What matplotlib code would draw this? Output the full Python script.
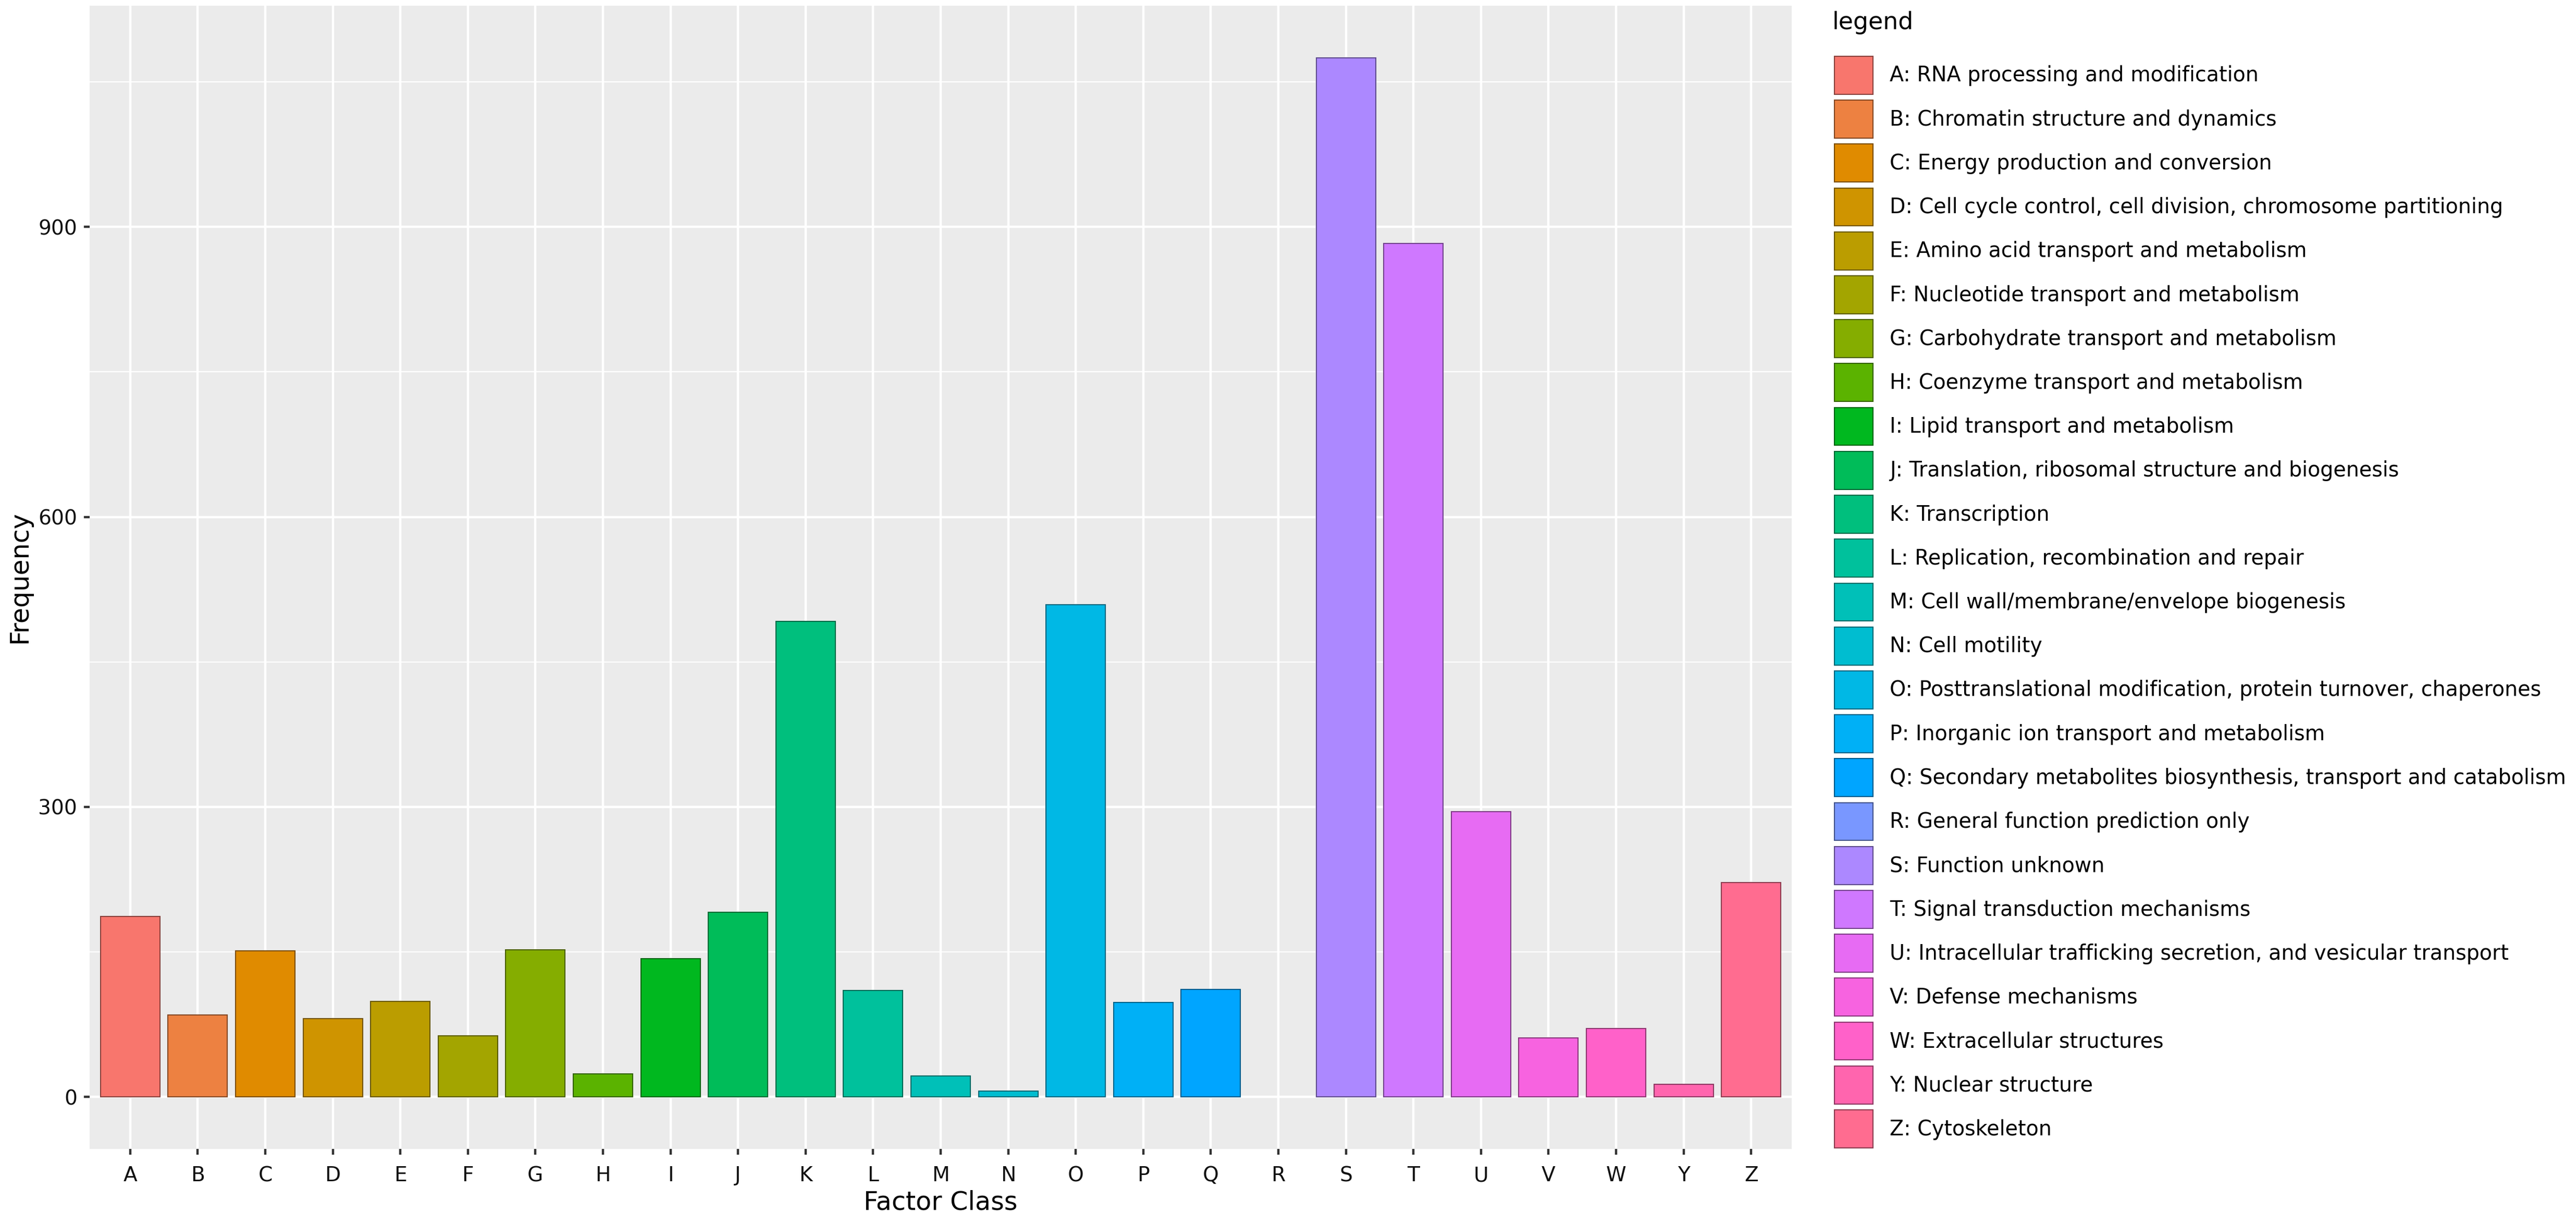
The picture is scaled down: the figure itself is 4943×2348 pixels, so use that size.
import numpy as np
import matplotlib
matplotlib.use('Agg')
import matplotlib.pyplot as plt
from matplotlib.patches import Patch

plt.rcParams['font.family'] = ['DejaVu Sans']

classes = ['A', 'B', 'C', 'D', 'E', 'F', 'G', 'H', 'I', 'J', 'K', 'L', 'M',
           'N', 'O', 'P', 'Q', 'R', 'S', 'T', 'U', 'V', 'W', 'Y', 'Z']
freq = [187, 85, 151, 81, 99, 63, 152, 24, 143, 191, 492, 110, 22,
        6, 509, 98, 111, 0, 1075, 883, 295, 61, 71, 13, 222]
descr = [
    'RNA processing and modification',
    'Chromatin structure and dynamics',
    'Energy production and conversion',
    'Cell cycle control, cell division, chromosome partitioning',
    'Amino acid transport and metabolism',
    'Nucleotide transport and metabolism',
    'Carbohydrate transport and metabolism',
    'Coenzyme transport and metabolism',
    'Lipid transport and metabolism',
    'Translation, ribosomal structure and biogenesis',
    'Transcription',
    'Replication, recombination and repair',
    'Cell wall/membrane/envelope biogenesis',
    'Cell motility',
    'Posttranslational modification, protein turnover, chaperones',
    'Inorganic ion transport and metabolism',
    'Secondary metabolites biosynthesis, transport and catabolism',
    'General function prediction only',
    'Function unknown',
    'Signal transduction mechanisms',
    'Intracellular trafficking secretion, and vesicular transport',
    'Defense mechanisms',
    'Extracellular structures',
    'Nuclear structure',
    'Cytoskeleton',
]
yticks = [0, 300, 600, 900]


def hue_pal(n, c=100.0, l=65.0):
    # same as ggplot's default discrete palette (hcl -> sRGB)
    h = np.deg2rad(np.linspace(15, 375, n + 1)[:n])
    u = c * np.cos(h)
    v = c * np.sin(h)
    Xn, Yn, Zn = 95.047, 100.0, 108.883
    un = 4 * Xn / (Xn + 15 * Yn + 3 * Zn)
    vn = 9 * Yn / (Xn + 15 * Yn + 3 * Zn)
    Y = np.full(n, Yn * ((l + 16) / 116) ** 3)
    up = u / (13 * l) + un
    vp = v / (13 * l) + vn
    X = Y * 9 * up / (4 * vp)
    Z = Y * (12 - 3 * up - 20 * vp) / (4 * vp)
    xyz = np.vstack([X, Y, Z]) / 100
    m = np.array([[3.240479, -1.537150, -0.498535],
                  [-0.969256, 1.875992, 0.041556],
                  [0.055648, -0.204043, 1.057311]])
    rgb = m @ xyz
    rgb = np.where(rgb <= 0.0031308, 12.92 * rgb,
                   1.055 * np.clip(rgb, 0, None) ** (1 / 2.4) - 0.055)
    return np.clip(rgb.T, 0, 1)


cols = hue_pal(len(classes))
edges = cols * 0.55

W, H, DPI = 4943, 2348, 300
fig = plt.figure(figsize=(W / DPI, H / DPI), dpi=DPI)
ax = fig.add_axes([172 / W, 1 - 2204 / H, (3438 - 172) / W, (2204 - 11) / H])
ax.set_facecolor('#EBEBEB')

x = np.arange(len(classes))
lw = [0.5 if f > 0 else 0 for f in freq]
ax.bar(x, freq, width=0.88, color=cols, edgecolor=edges, linewidth=lw, zorder=3)

top = max(freq)
ax.set_ylim(-0.05 * top, 1.05 * top)
ax.set_xlim(-0.6, len(classes) - 0.4)
ax.set_xticks(x)
ax.set_xticklabels(classes)
ax.set_yticks(yticks)
ax.set_yticks([150, 450, 750, 1050], minor=True)

ax.grid(which='major', color='white', linewidth=1.07, zorder=0)
ax.grid(which='minor', axis='y', color='white', linewidth=0.53, zorder=0)
ax.set_axisbelow(True)
for s in ax.spines.values():
    s.set_visible(False)
ax.tick_params(axis='both', which='major', length=2.75, width=1.07, color='#333333',
               labelsize=9.4, labelcolor='#111111')
ax.tick_params(axis='y', pad=3)
ax.tick_params(axis='x', pad=5)
ax.tick_params(axis='y', which='minor', length=0)

ax.set_xlabel('Factor Class', fontsize=11.8, color='black')
ax.set_ylabel('Frequency', fontsize=11.8, color='black')
ax.xaxis.set_label_coords(0.5, -0.036)
ax.yaxis.set_label_coords(-0.034, 0.5)

# legend
fig.text(3516 / W, 1 - 44 / H, 'legend', fontsize=11, ha='left', va='center')
handles = [Patch(facecolor=cols[i], edgecolor=edges[i], linewidth=0.5,
                 label=f'{classes[i]}: {descr[i]}') for i in range(len(classes))]
fig.legend(handles=handles, loc='upper left', bbox_to_anchor=(3520 / W, 1 - 108 / H),
           frameon=False, fontsize=9.5, borderpad=0, borderaxespad=0,
           handlelength=1.87, handleheight=2.45, labelspacing=0.29,
           handletextpad=0.81)

fig.savefig('out.png', dpi=DPI, facecolor='white')
